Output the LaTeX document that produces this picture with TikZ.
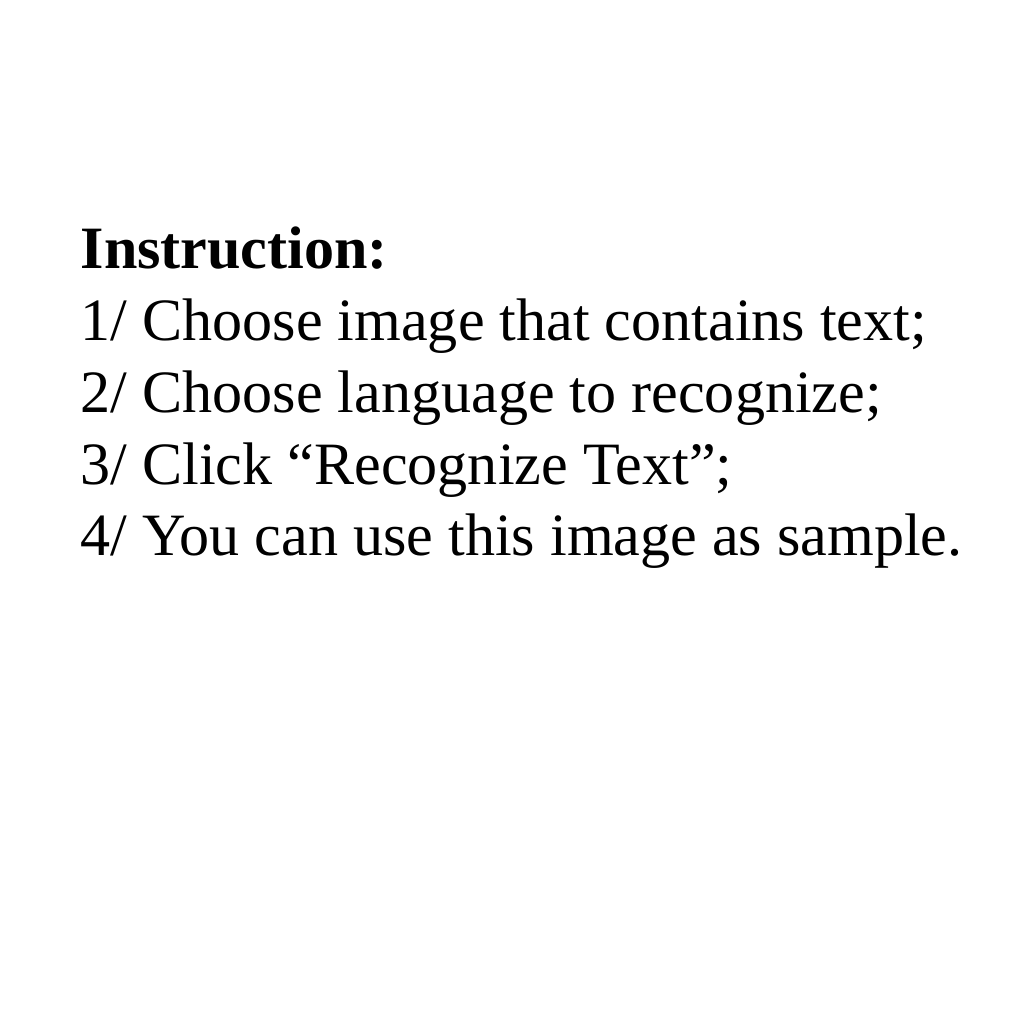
\documentclass[tikz,border=0pt]{standalone}
\usepackage{fontspec}
\setmainfont{Liberation Serif}
\usetikzlibrary{positioning}
\tikzset{
  line/.style={anchor=base west, inner sep=0pt, font=\fontsize{17.1pt}{20pt}\selectfont}
}
\begin{document}
\begin{tikzpicture}
		\useasboundingbox (0,0) rectangle (10.24,-10.24);
		%
		\node[line, font=\fontsize{17.1pt}{20pt}\selectfont\bfseries] (title) at (0.80,-2.68) {Instruction:};
		\node[line] (s1) at (0.80,-3.40) {1/ Choose image that contains text;};
		\node[line] (s2) at (0.80,-4.12) {2/ Choose language to recognize;};
		\node[line] (s3) at (0.80,-4.84) {3/ Click “Recognize Text”;};
		\node[line] (s4) at (0.80,-5.55) {4/ You can use this image as sample.};
	\end{tikzpicture}
\end{document}
